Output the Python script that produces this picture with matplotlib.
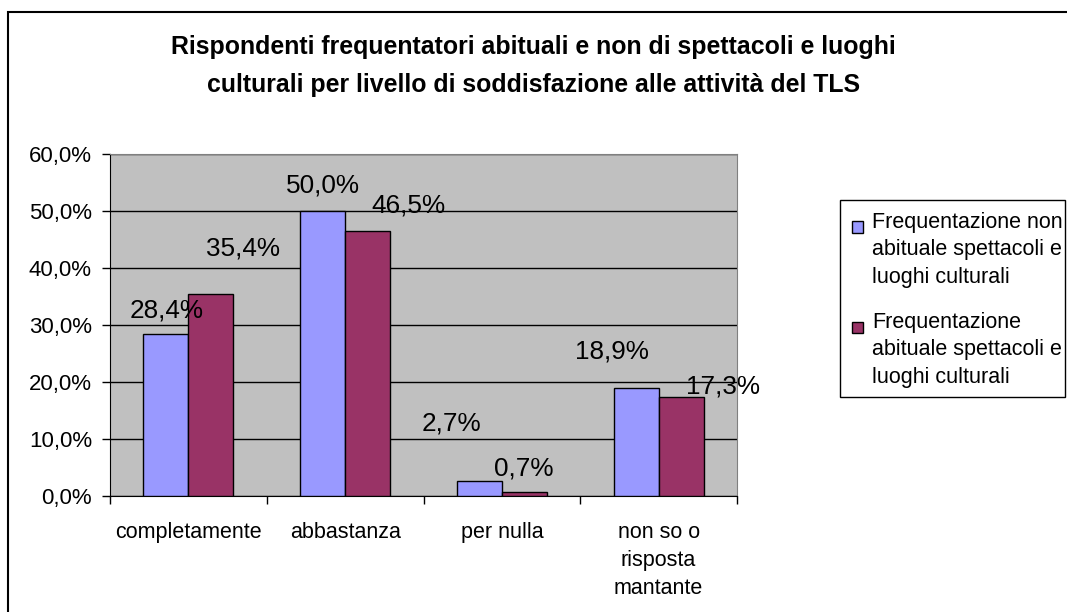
import numpy as np
import matplotlib.pyplot as plt
from matplotlib.patches import Rectangle

plt.rcParams['font.family'] = ['Liberation Sans', 'DejaVu Sans']

# dati
categorie = ['completamente', 'abbastanza', 'per nulla', 'non so o\nrisposta\nmantante']
serie = ['Frequentazione non\nabituale spettacoli e\nluoghi culturali',
         'Frequentazione\nabituale spettacoli e\nluoghi culturali']
non_abituali = [28.4, 50.0, 2.7, 18.9]
abituali = [35.4, 46.5, 0.7, 17.3]
colori = ['#9999FF', '#993366']

# spostamento delle etichette (pixel) come nel grafico Excel
off_non = [(1, 24), (0, 25), (-28, 57), (-24, 37)]
off_abi = [(32, 46), (41, 25), (-1, 24), (42, 11)]

W, H = 1067, 612
fig = plt.figure(figsize=(W / 100, H / 100), dpi=100)
ax = fig.add_axes([110 / W, 1 - 496 / H, 627 / W, 342 / H])
ax.set_facecolor('#C0C0C0')

x = np.arange(len(categorie))
w = 0.287
b1 = ax.bar(x - w / 2, non_abituali, w, color=colori[0], edgecolor='black', linewidth=1, zorder=3)
b2 = ax.bar(x + w / 2, abituali, w, color=colori[1], edgecolor='black', linewidth=1, zorder=3)

for bars, vals, offs in [(b1, non_abituali, off_non), (b2, abituali, off_abi)]:
    for r, v, o in zip(bars, vals, offs):
        ax.annotate(f'{v:.1f}%'.replace('.', ','), (r.get_x() + r.get_width() / 2, r.get_height()),
                    xytext=o, textcoords='offset pixels', ha='center', va='center',
                    fontsize=18.8, zorder=4, annotation_clip=False)

ax.set_xlim(-0.5, len(categorie) - 0.5)
ax.set_ylim(0, 60)
ax.set_yticks(np.arange(0, 61, 10))
ax.set_yticklabels([f'{t:.1f}%'.replace('.', ',') for t in np.arange(0, 61, 10)], fontsize=16)
ax.yaxis.grid(True, color='black', linewidth=1)
ax.set_axisbelow(True)
ax.tick_params(axis='y', direction='out', length=6, width=1, pad=7)

ax.set_xticks(x)
ax.set_xticklabels(categorie, fontsize=15.5, linespacing=1.44, va='top')
ax.tick_params(axis='x', length=0, pad=18.5)
ax.set_xticks(np.arange(-0.5, len(categorie)), minor=True)
ax.tick_params(axis='x', which='minor', direction='out', length=6, width=1)

for s in ['left', 'bottom']:
    ax.spines[s].set_color('black')
for s in ['top', 'right']:
    ax.spines[s].set_color('#808080')

# titolo
fig.text(0.5, 1 - 66 / H,
         'Rispondenti frequentatori abituali e non di spettacoli e luoghi\n'
         'culturali per livello di soddisfazione alle attività del TLS',
         ha='center', va='center', fontsize=17.9, fontweight='bold', linespacing=1.7)

# legenda (riquadro come in Excel, simbolo allineato alla prima riga)
fig.add_artist(Rectangle((840 / W, 1 - 397 / H), 225 / W, 197 / H, transform=fig.transFigure,
                         facecolor='white', edgecolor='black', linewidth=1))
for i, (nome, col) in enumerate(zip(serie, colori)):
    yc = 227 + i * 100
    fig.add_artist(Rectangle((852 / W, 1 - (yc + 5.5) / H), 11 / W, 11 / H, transform=fig.transFigure,
                             facecolor=col, edgecolor='black', linewidth=1))
    fig.text(872 / W, 1 - (250 + i * 100) / H, nome, ha='left', va='center',
             fontsize=15.5, linespacing=1.38)

# cornice esterna
fig.add_artist(Rectangle((8 / W, -0.1), 1.2, 1.1 - 12 / H, transform=fig.transFigure,
                         fill=False, edgecolor='black', linewidth=1.5))

fig.savefig('out.png', dpi=100)
